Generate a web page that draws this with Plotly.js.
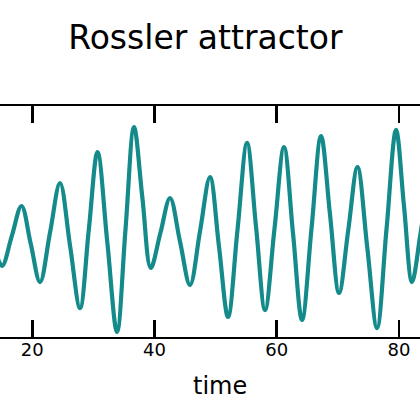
<!DOCTYPE html>
<html>
<head>
<meta charset="utf-8">
<script src="https://cdn.plot.ly/plotly-3.0.1.min.js"></script>
<style>html,body{margin:0;padding:0;background:#fff;}#chart{width:420px;height:420px;}</style>
</head>
<body>
<div id="chart"></div>
<script>
// time samples (peaks, troughs and crossings)
var time = [13.73, 15.04, 16.64, 18.23, 19.75, 21.26, 22.90, 24.53, 26.17, 27.81,
  29.24, 30.67, 32.27, 33.86, 35.25, 36.64, 38.01, 39.38, 40.96, 42.54,
  44.17, 45.81, 47.45, 49.08, 50.56, 52.03, 53.58, 55.14, 56.61, 58.09,
  59.64, 61.19, 62.67, 64.14, 65.70, 67.25, 68.72, 70.20, 71.71, 73.22,
  74.82, 76.42, 77.97, 79.53, 80.83, 82.14, 83.45, 84.44];
var xValue = [-2.44, -4.62, -1.51, 1.61, -2.34, -6.29, -1.14, 4.00, -2.49, -8.99,
  -0.88, 7.22, -2.13, -11.48, -0.83, 9.82, 2.49, -4.83, -1.20, 2.44,
  -2.08, -6.60, -0.99, 4.62, -2.65, -9.92, -0.88, 8.16, -0.52, -9.20,
  -0.73, 7.74, -1.25, -10.23, -0.68, 8.88, 0.73, -7.43, -0.88, 5.66,
  -2.70, -11.07, -0.78, 9.51, 1.61, -6.29, -1.60, 2.75];
var tickVals = [20, 40, 60, 80];
var tickText = ['20', '40', '60', '80'];
var xRange = [14.71, 83.45];
var yRange = [-12, 12];

var trace = {
  x: time, y: xValue, type: 'scatter', mode: 'lines',
  line: {color: '#148a8a', width: 4.2, shape: 'spline', smoothing: 1},
  hoverinfo: 'skip'
};
var font = 'DejaVu Sans, Liberation Sans, Arial, sans-serif';
var layout = {
  width: 420, height: 420,
  margin: {l: 0, r: 0, t: 106, b: 83, pad: 0},
  paper_bgcolor: '#fff', plot_bgcolor: '#fff',
  showlegend: false,
  title: {text: 'Rossler attractor', font: {family: font, size: 33, color: '#000'},
    x: 0.489, xanchor: 'center', xref: 'container', y: 0.911, yanchor: 'middle', yref: 'container'},
  xaxis: {range: xRange, tickvals: tickVals, ticktext: tickText,
    ticks: 'inside', ticklen: 17, tickwidth: 2.5, tickcolor: '#000',
    showline: true, linewidth: 2, linecolor: '#000', mirror: 'allticks',
    showgrid: false, zeroline: false, automargin: false, ticklabelstandoff: -5,
    tickfont: {family: font, size: 18, color: '#000'}},
  yaxis: {range: yRange, visible: false, showgrid: false, zeroline: false, automargin: false},
  annotations: [{text: 'time', xref: 'paper', yref: 'paper', x: 0.524, y: -0.212,
    xanchor: 'center', yanchor: 'middle', showarrow: false,
    font: {family: font, size: 24, color: '#000'}}]
};
Plotly.newPlot('chart', [trace], layout, {staticPlot: true, displayModeBar: false});
</script>
</body>
</html>
